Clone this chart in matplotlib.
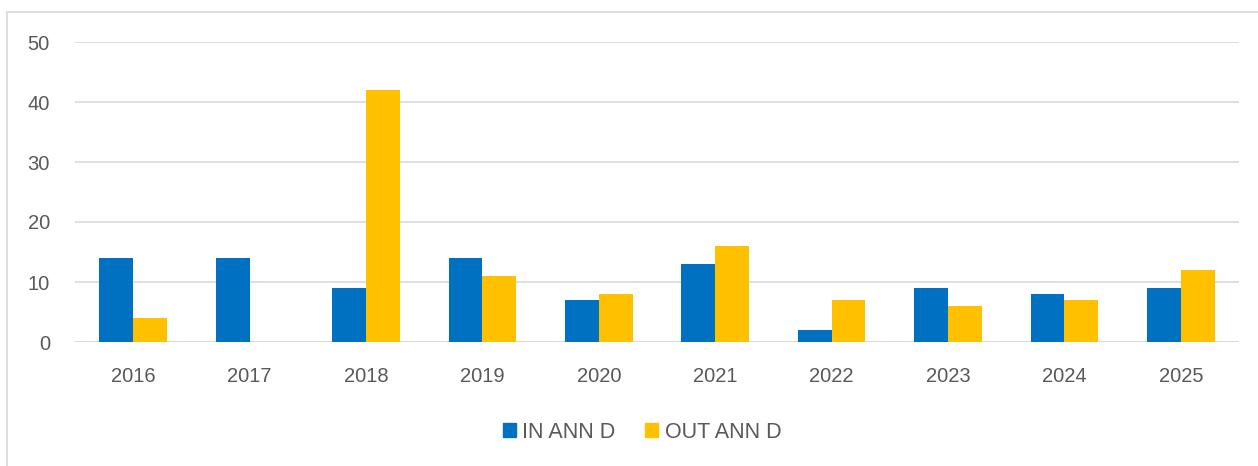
import numpy as np
import matplotlib
matplotlib.use("Agg")
import matplotlib.pyplot as plt
from matplotlib.patches import Rectangle, Patch

years = ["2016", "2017", "2018", "2019", "2020", "2021", "2022", "2023", "2024", "2025"]
in_ann_d = [14, 14, 9, 14, 7, 13, 2, 9, 8, 9]
out_ann_d = [4, 0, 42, 11, 8, 16, 7, 6, 7, 12]
series_names = ["IN ANN D", "OUT ANN D"]

plt.rcParams['font.family'] = ['Liberation Sans', 'DejaVu Sans']
text_color = '#595959'
blue = '#0070C0'
yellow = '#FFC000'

W, H = 1258, 466
fig = plt.figure(figsize=(W / 100, H / 100), dpi=100)

# light chart border (only top and left visible in the crop)
fig.patches.append(Rectangle((7 / W, -0.05), 1.1, 1 - 12 / H + 0.05, transform=fig.transFigure,
                             fill=False, edgecolor='#d9d9d9', linewidth=1.2))

ax = fig.add_axes([75 / W, 1 - 342 / H, (1239 - 75) / W, (342 - 42) / H])
x = np.arange(len(years))
w = 0.29
ax.bar(x - w / 2, in_ann_d, w, color=blue, label=series_names[0], zorder=3)
ax.bar(x + w / 2, out_ann_d, w, color=yellow, label=series_names[1], zorder=3)

ax.set_xlim(-0.5, len(years) - 0.5)
ax.set_ylim(0, 50)
ax.set_yticks(range(0, 51, 10))
ax.set_xticks(x)
ax.set_xticklabels(years)
ax.yaxis.grid(True, color='#d9d9d9', linewidth=1.2, zorder=0)
for s in ax.spines.values():
    s.set_visible(False)
ax.axhline(0, color='#d9d9d9', linewidth=1.2, zorder=2)
ax.tick_params(axis='both', length=0, labelsize=14.5, colors=text_color)
ax.tick_params(axis='x', pad=18)
ax.tick_params(axis='y', pad=18)

handles = [Patch(color=blue), Patch(color=yellow)]
fig.legend(handles, series_names, loc='center', bbox_to_anchor=(642 / W, 1 - 432 / H), ncol=2,
           frameon=False, fontsize=15.5, labelcolor=text_color, handlelength=0.6, handleheight=0.6,
           handletextpad=0.3, columnspacing=1.4)

fig.savefig("out.png", dpi=100)
